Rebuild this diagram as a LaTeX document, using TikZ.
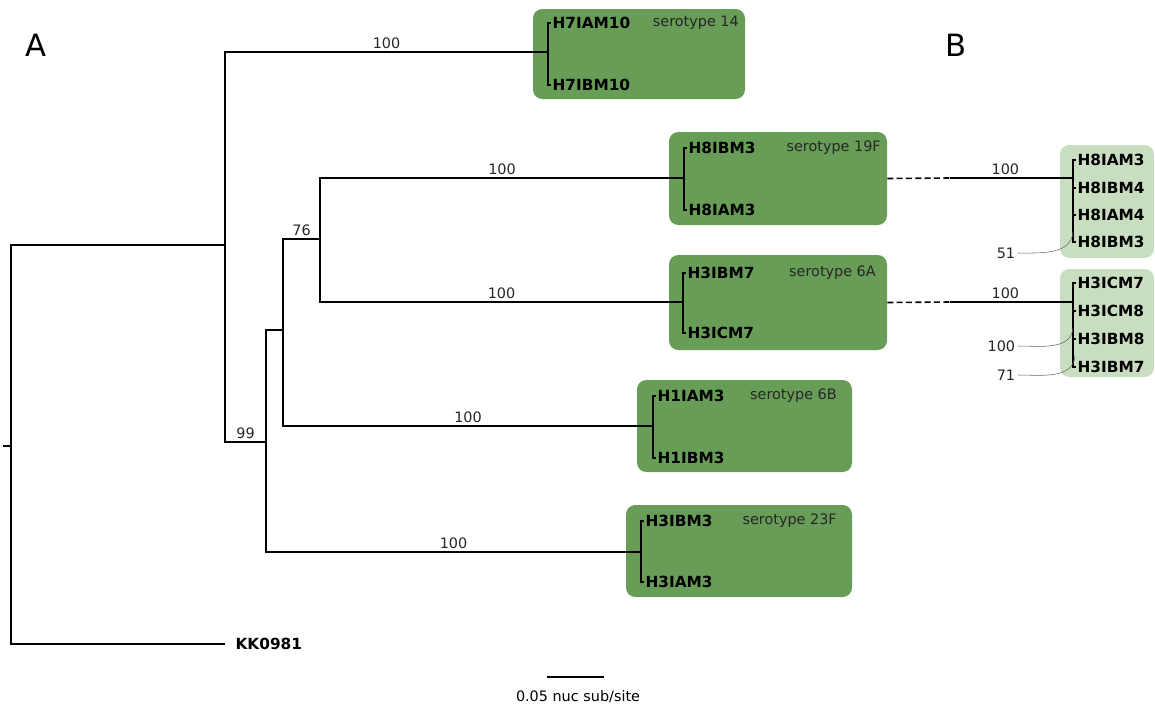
\documentclass[tikz,border=0pt]{standalone}
\usepackage{fontspec}
\setmainfont{DejaVu Sans}
\usetikzlibrary{positioning}

\definecolor{cladegreen}{RGB}{104,157,88}
\definecolor{palegreen}{RGB}{201,222,193}

\newcommand\tipfont{\bfseries\fontsize{11.5}{13}\selectfont}
\newcommand\bootfont{\fontsize{10.8}{12}\selectfont}

\tikzset{
  branch/.style={line width=1.2pt},
  tip/.style={anchor=west, inner sep=1pt, font=\tipfont},
  boot/.style={anchor=south, inner sep=2pt, font=\bootfont, text=black!85},
  sero/.style={anchor=east, inner sep=0pt, font=\bootfont, text=black!85},
  support/.style={line width=0.4pt, black!60},
  cladebox/.style={fill=cladegreen, rounded corners=7pt, inner sep=0pt},
  palebox/.style={fill=palegreen, rounded corners=7pt, inner sep=0pt},
  panel/.style={font=\fontsize{23}{26}\selectfont}
}

\begin{document}
\begin{tikzpicture}[x=0.75pt, y=-0.75pt]
    \useasboundingbox (0,0) rectangle (1155,708);

    % Boxes
    \node[cladebox, minimum width=159pt, minimum height=67.5pt] (box14) at (639,54) {};
    \node[cladebox, minimum width=163.5pt, minimum height=69.75pt] (box19) at (778,178.5) {};
    \node[cladebox, minimum width=163.5pt, minimum height=71.25pt] (box6a) at (778,302.5) {};
    \node[cladebox, minimum width=161.25pt, minimum height=69pt] (box6b) at (744.5,426) {};
    \node[cladebox, minimum width=169.5pt, minimum height=69pt] (box23) at (739,551) {};
    \node[palebox, minimum width=70.5pt, minimum height=84.75pt] (pale19) at (1107,201.5) {};
    \node[palebox, minimum width=70.5pt, minimum height=81pt] (pale6) at (1107,323) {};

    % Tree nodes
    \coordinate (stub) at (3,446);
    \coordinate (root) at (11,446);
    \coordinate (ingrp) at (225,245);
    \coordinate (kk) at (225,644);
    \coordinate (n99) at (266,442);
    \coordinate (nc) at (283,330);
    \coordinate (n76) at (320,239);
    \coordinate (c14) at (548,52);
    \coordinate (c19) at (684,178);
    \coordinate (c6a) at (683,302);
    \coordinate (c6b) at (653,426);
    \coordinate (c23) at (641,552);
    \coordinate (g19) at (950,178);
    \coordinate (g6) at (950,302);
    \coordinate (b19) at (1073,178);
    \coordinate (b6) at (1073,302);

    % Tips
    \node[tip] (t14a) at (551,23) {H7IAM10};
    \node[tip] (t14b) at (551,85) {H7IBM10};
    \node[tip] (t19a) at (687,148) {H8IBM3};
    \node[tip] (t19b) at (687,210) {H8IAM3};
    \node[tip] (t6aa) at (686,273) {H3IBM7};
    \node[tip] (t6ab) at (686,333) {H3ICM7};
    \node[tip] (t6ba) at (656,396) {H1IAM3};
    \node[tip] (t6bb) at (656,458) {H1IBM3};
    \node[tip] (t23a) at (644,521) {H3IBM3};
    \node[tip] (t23b) at (644,582) {H3IAM3};
    \node[tip] (tkk) at (234,644) {KK0981};
    \node[tip] (r19a) at (1076,160) {H8IAM3};
    \node[tip] (r19b) at (1076,188) {H8IBM4};
    \node[tip] (r19c) at (1076,215) {H8IAM4};
    \node[tip] (r19d) at (1076,242) {H8IBM3};
    \node[tip] (r6a) at (1076,283) {H3ICM7};
    \node[tip] (r6b) at (1076,311) {H3ICM8};
    \node[tip] (r6c) at (1076,339) {H3IBM8};
    \node[tip] (r6d) at (1076,367) {H3IBM7};

    % Serotypes
    \node[sero] (s14) at (739,23) {serotype 14};
    \node[sero] (s19) at (881,148) {serotype 19F};
    \node[sero] (s6a) at (876,273) {serotype 6A};
    \node[sero] (s6b) at (837,396) {serotype 6B};
    \node[sero] (s23) at (837,521) {serotype 23F};

    % Branches
    \draw[branch] (stub) -- (root);
    \draw[branch] (root) |- (ingrp);
    \draw[branch] (root) |- (kk);
    \draw[branch] (ingrp) |- node[boot, pos=0.75] (bs14) {100} (c14);
    \draw[branch] (ingrp) |- node[boot, pos=0.75] (bs99) {99} (n99);
    \draw[branch] (n99) |- (nc);
    \draw[branch] (n99) |- node[boot, pos=0.75] (bs23) {100} (c23);
    \draw[branch] (nc) |- node[boot, pos=0.75] (bs76) {76} (n76);
    \draw[branch] (nc) |- node[boot, pos=0.75] (bs6b) {100} (c6b);
    \draw[branch] (n76) |- node[boot, pos=0.75] (bs19) {100} (c19);
    \draw[branch] (n76) |- node[boot, pos=0.75] (bs6a) {100} (c6a);
    \foreach \c/\t in {c14/t14a, c14/t14b, c19/t19a, c19/t19b, c6a/t6aa, c6a/t6ab,
                       c6b/t6ba, c6b/t6bb, c23/t23a, c23/t23b,
                       b19/r19a, b19/r19b, b19/r19c, b19/r19d,
                       b6/r6a, b6/r6b, b6/r6c, b6/r6d}
      \draw[branch] (\c) |- (\t.west);

    % Links to panel B
    \draw[branch, dash pattern=on 4.5pt off 2.5pt] (box19.east) -- (g19);
    \draw[branch] (g19) -- node[boot, pos=0.45] (bsb19) {100} (b19);
    \draw[branch, dash pattern=on 4.5pt off 2.5pt] (box6a.east) -- (g6);
    \draw[branch] (g6) -- node[boot, pos=0.45] (bsb6) {100} (b6);

    % Support values in B
    \coordinate (s51) at (1073,232);
    \coordinate (s100) at (1073,328);
    \coordinate (s71) at (1075,356);
    \node[boot, anchor=east] (bs51) at (1018,253) {51};
    \node[boot, anchor=east] (bsb100) at (1018,346) {100};
    \node[boot, anchor=east] (bs71) at (1018,375) {71};
    \draw[support] (bs51.east) to[out=0, in=-95] (s51);
    \draw[support] (bsb100.east) to[out=0, in=-95] (s100);
    \draw[support] (bs71.east) to[out=0, in=-95] (s71);

    % Scale bar and panels
    \coordinate (sb1) at (547,677);
    \coordinate (sb2) at (604,677);
    \draw[branch] (sb1) -- (sb2);
    \node[font=\bootfont] (sblab) at (578,697) {0.05 nuc sub/site};
    \node[panel] (pa) at (36,45) {A};
    \node[panel] (pb) at (956,45) {B};
\end{tikzpicture}
\end{document}
